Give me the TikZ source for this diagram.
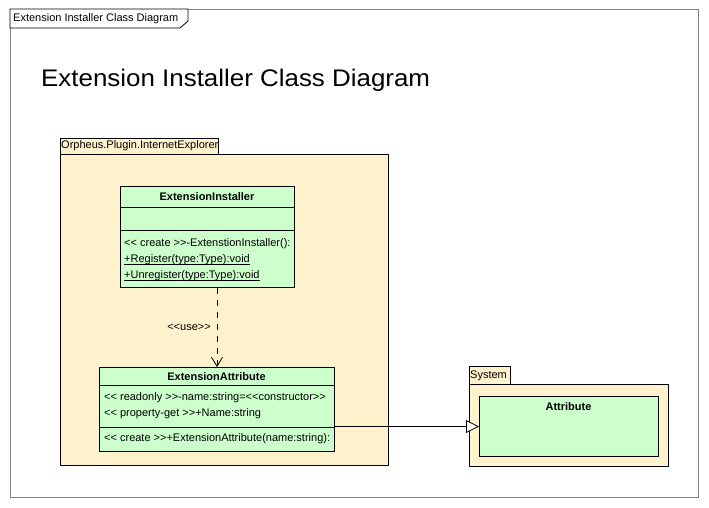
\documentclass[tikz,border=0pt]{standalone}
\usepackage{fontspec}
\setmainfont{Liberation Sans}[Ligatures=ResetAll]
\usetikzlibrary{arrows.meta}
\definecolor{pkgfill}{HTML}{FFF2CC}
\definecolor{clsfill}{HTML}{CCFFCC}
\definecolor{framegray}{HTML}{808080}
\newcommand\myuline[1]{\setbox0\hbox{#1}\rlap{\rule[-1.6pt]{\wd0}{0.7pt}}\box0}
\begin{document}
\begin{tikzpicture}[x=1pt,y=-1pt,
  every node/.style={inner sep=0pt, font=\fontsize{11}{13}\selectfont},
  pkg/.style={draw=black, fill=pkgfill, line width=0.8pt},
  cls/.style={draw=black, fill=clsfill, line width=0.8pt, anchor=north west},
  memb/.style={anchor=west},
  cname/.style={font=\fontsize{11}{13}\selectfont\bfseries}]
\useasboundingbox (0,0) rectangle (709,507);
% outer frame
\draw[framegray, line width=0.8pt] (10,9) rectangle (698,497);
\draw[black, fill=white, line width=0.8pt] (10,9) -- (188,9) -- (188,21) -- (180,28) -- (10,28) -- cycle;
\node[anchor=west] (tabt) at (13,19) {Extension Installer Class Diagram};
\node[anchor=base west, font=\fontsize{24}{28}\selectfont] (title) at (41,86) {\scalebox{1.08}[1]{Extension Installer Class Diagram}};
% package Orpheus
\draw[pkg] (60,138) rectangle (218,154);
\node[anchor=west] (pk1t) at (61,146) {Orpheus.Plugin.InternetExplorer};
\draw[pkg] (60,154) rectangle (388,465);
% package System
\draw[pkg] (469,366) rectangle (510,384);
\node[anchor=west] (pk2t) at (470,375.5) {System};
\draw[pkg] (469,384) rectangle (668,466);
% ExtensionInstaller
\node[cls, minimum width=174pt, minimum height=101pt] (ei) at (120,186) {};
\draw[line width=0.8pt] (120,207) -- (294,207) (120,230) -- (294,230);
\node[cname] (ein) at (207,197) {ExtensionInstaller};
\node[memb] (eo1) at (124,244) {<{}< create >{}>-ExtenstionInstaller():};
\node[memb] (eo2) at (124,260) {\myuline{+Register(type:Type):void}};
\node[memb] (eo3) at (124,276) {\myuline{+Unregister(type:Type):void}};
% ExtensionAttribute
\node[cls, minimum width=235pt, minimum height=84pt] (ea) at (99,367) {};
\draw[line width=0.8pt] (99,385) -- (334,385) (99,427) -- (334,427);
\node[cname] (ean) at (216.5,377) {ExtensionAttribute};
\node[memb] (ea1) at (104,398) {<{}< readonly >{}>-name:string=<{}<constructor>{}>};
\node[memb] (ea2) at (104,414) {<{}< property-get >{}>+Name:string};
\node[memb] (ea3) at (104,438.5) {<{}< create >{}>+ExtensionAttribute(name:string):};
% Attribute
\node[cls, minimum width=179pt, minimum height=60pt] (at) at (479,396) {};
\node[cname] (atn) at (568.5,407) {Attribute};
% use dependency
\coordinate (ux) at (217,0);
\draw[line width=0.8pt, dash pattern=on 6pt off 6pt, -{Straight Barb[open, length=9pt, width=11pt]}] (ei.south -| ux) -- (ea.north -| ux);
\node (use) at (189,327) {<{}<use>{}>};
% generalization
\coordinate (gy) at (0,426.5);
\draw[line width=0.8pt, -{Triangle[open, fill=white, length=13pt, width=13pt]}] (ea.east |- gy) -- (at.west |- gy);
\end{tikzpicture}
\end{document}
